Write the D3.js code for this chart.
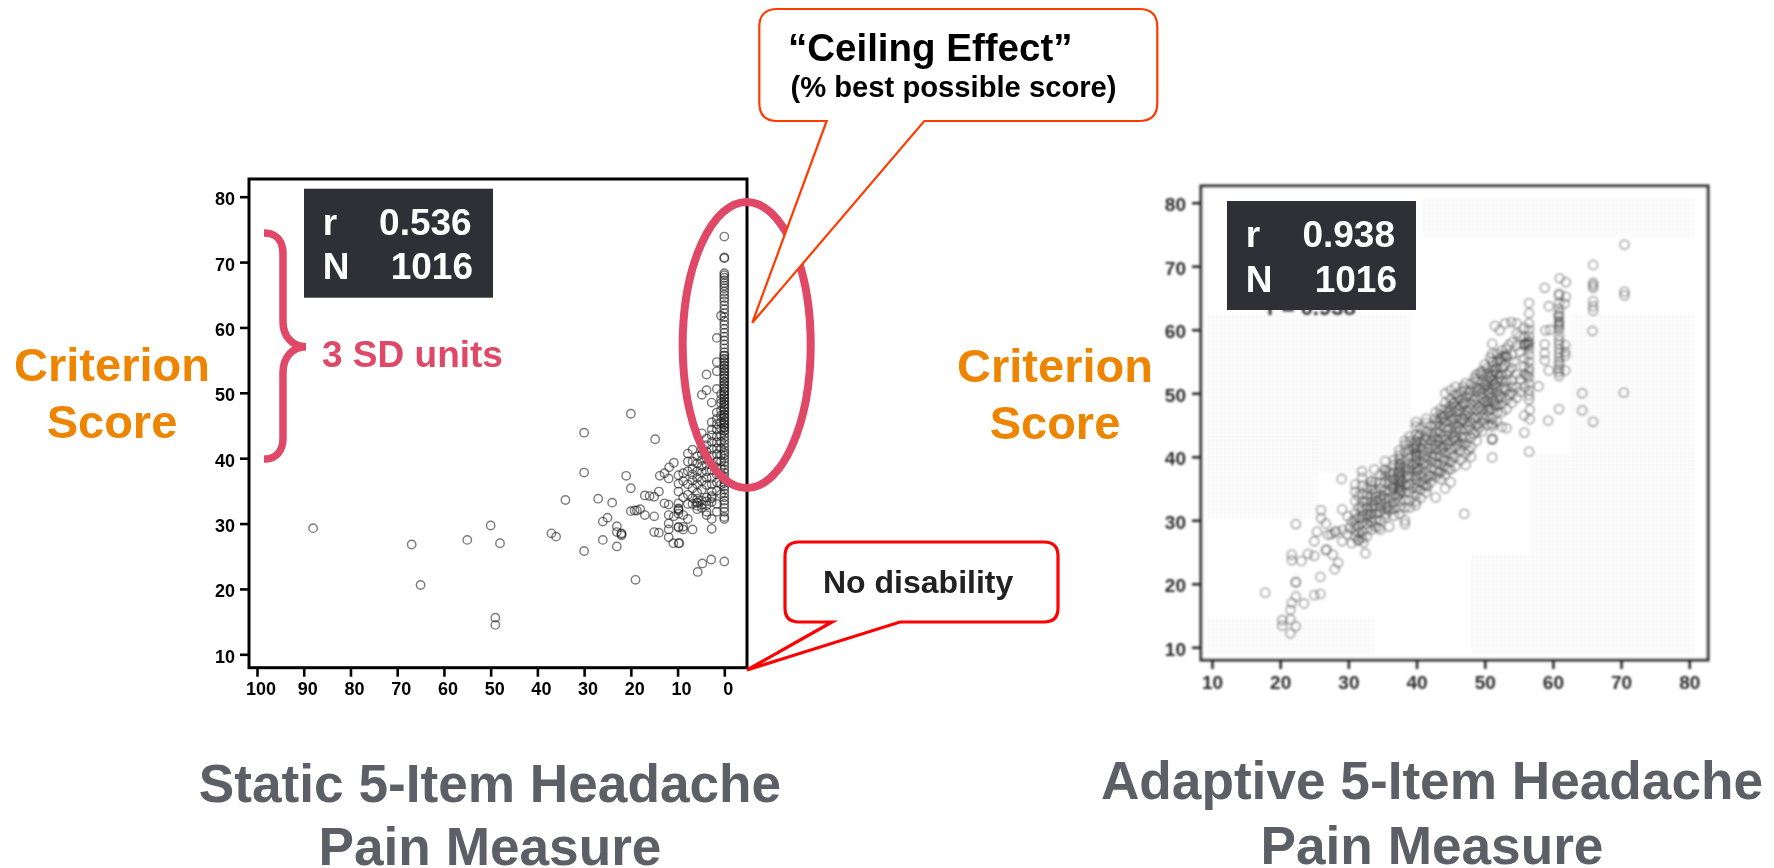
<!DOCTYPE html>
<html><head><meta charset="utf-8">
<script src="https://cdn.jsdelivr.net/npm/d3@7"></script>
<style>
html,body{margin:0;padding:0;background:#fff;overflow:hidden}
text{font-family:"Liberation Sans",Arial,sans-serif;font-weight:700}
</style></head><body>
<script>
// ---- tick labels ----
const staticXTicks=[100,90,80,70,60,50,40,30,20,10,0];
const adaptiveXTicks=[10,20,30,40,50,60,70,80];
const yTicks=[10,20,30,40,50,60,70,80];
// ---- static measure: isolated points [score, criterion] ----
const staticOutliers=[[88,29.3],[66.9,26.8],[65,20.6],[55,27.5],[50,29.7],[48,27],[49,15.6],[49,14.5],[37,28.5],[36,28],[34,33.6],[30,43.9],[30,37.8],[30,25.8],[27,33.8],[24,33.2],[25,30.9],[26,30.3],[26,27.5],[23,29.6],[23,28.7],[23,26.5],[22,28.4],[22,28.2],[22,28.5],[20,46.8],[21,37.3],[20,35.4],[20,31.9],[19,21.4],[19.2,32],[18.7,32],[18,32.2],[17,31.3],[17,34.3],[16,34.2],[15,34.1],[14,34.9],[15,31.1],[14.8,42.9],[15,28.7],[14,28.6],[13.8,37.3],[12.8,37.7],[11.9,36.9],[11.8,38.6],[10.8,39.3],[12.8,33.1],[11.9,32.9],[11.9,31.3],[11.9,30],[11.9,29.1],[11.9,27.9],[10.9,27],[9.6,27],[10.8,31.1],[5.7,22.6],[4.7,23.9],[2.8,24.5],[0,24.2]];
// ---- static measure: dense area, score columns and the criterion values in them ----
const staticColumnScores=[0.7,1.6,2.7,3.8,4.8,5.8,6.8,7.8,8.8,9.8];
const staticColumnValues=[
[34.5,36,37.5,38.5,39.5,40.5,41.5,42.5,43.5,44.5,45.5,46.5,47.3,48.4,49,49.8,61.8],
[31.8,33,35,36.3,37.5,38.5,39.5,40.6,41.5,42.4,43.3,44.4,45.2,46,47,50.6,53.3,54.7,58.4],
[29.2,30.7,33.3,33.9,34.2,34.9,36,37,38.2,39.2,40.4,41.4,42.5,43.5,44.4,45.5,48.5],
[31.3,31.8,32.8,33.4,34,35.9,37,38,39,40,41,42,43,50.4,52.8],
[32.4,32.9,33.5,35.2,36.5,37.8,38.8,39.7,40.6,41.5,43.8,49.7],
[32.2,32.7,33.2,33.2,33.8,34.7,36,37,38,39.2,40.3],
[29.1,33,33.9,35.4,36.6,37.5,38.4,39.5,41.3],
[30.7,33,34.4,36,38,39.5,40.7],
[29.1,29.5,31.3,34,36.5,37.7],
[27,29.4,29.5,31.5,32,32.2,32.3,33.1,34.9,36.1,37.4]];
// ---- static measure: criterion values of everyone at the best possible score ----
const staticCeiling=[30.7,31,31.8,32.4,33,33.5,34,34.6,35.2,35.7,36.2,36.7,37.2,37.8,38.3,38.9,39.4,39.9,40.4,40.8,41.2,41.7,42.2,42.7,43.2,43.7,44.2,44.2,44.7,44.7,45.2,45.2,45.7,45.7,46.2,46.2,46.7,46.7,47.2,47.2,47.7,47.7,48.2,48.2,48.7,48.7,49.2,49.2,49.7,49.7,50.2,50.2,50.7,50.7,51.2,51.2,51.7,51.7,52.2,52.2,52.7,52.7,53.2,53.2,53.7,53.7,54.2,54.2,54.7,54.7,55.2,55.2,55.7,55.7,56.2,56.8,57.4,58,58.6,59.2,59.8,60.4,61,61.6,62.2,62.8,63.4,64,64.5,65,65.5,66,66.4,66.8,67.2,67.6,68,68.3,70.6,70.7,73.9];
// ---- adaptive measure: isolated and fringe points [score, criterion] ----
const adaptiveOutliers=[[70.5,73.4],[65.9,70.2],[65.9,67.4],[65.9,67],[65.9,66.6],[65.9,64.5],[65.9,63.7],[65.9,63],[65.8,59.8],[70.5,66],[70.5,65.4],[70.4,50.1],[64.3,50],[64.3,47.3],[65.9,45.5],[60.9,47.5],[59.3,45.7],[56.5,40.8],[55.8,43.8],[56.6,45.9],[56.6,47.4],[55.8,46.5],[57.9,51.1],[61,68.1],[61.9,67.5],[58.8,66.6],[61.9,65.2],[61.7,64.1],[59.4,63.7],[61.8,57.6],[61.8,56.5],[61.8,55.9],[61.8,53.6],[58.8,57.7],[58.8,56.3],[58.8,55.2],[59.4,53.6],[58.9,59.9],[59.6,60],[53.9,61.2],[53,61],[52.2,59.9],[51.5,60.6],
[17.8,18.6],[21.5,12.2],[20.3,13.4],[20.3,14.3],[21.5,14.4],[22.3,13.3],[21.5,15.9],[21.7,17],[22.3,18],[23.5,16.9],[25,18.2],[25.9,18.4],[22.3,20.2],[22.3,20.3],[25.9,21.1],[21.7,24.6],[21.7,23.7],[23.1,23.6],[24.1,24.7],[25,24.4],[26.7,25.3],[26.8,25.4],[27.7,24.6],[28.5,23.3],[28,22.3],[22.3,29.4],[25,26.7],[26,31.6],[26,30.3],[26.7,29.5],[25.4,28.2],[27,27.7],[28,28.1],[28.2,28.3],[27.5,27.8],[29.1,31.7],[29.9,30.6],[29.1,26.7],[30.5,26.4],[31.4,26.8],[32.2,26.5],[32.5,24.8],[29,36.5],[29.2,28.5],[29.8,27.8],[30.2,28.8],[30.5,29.8],[47,31],[42.8,33.6],[41.6,35.3],[32,37.7],[33.4,36.1],[35.4,39.3],[33.8,38]];
// ---- adaptive measure: dense band, score columns and the criterion values in them ----
const adaptiveColumnScores=[31,31.5,32,32.7,33.4,34,34.7,35.4,36,36.7,37.5,38.3,39,39.9,40.6,41.4,42.1,42.8,43.5,44.2,45,45.7,46.5,47.2,48,48.8,49.6,50.4,51.1,51.8,52.5,53.2,54,54.7,55.8,56.5,60.9];
const adaptiveColumnValues=[
[27.5,28.4,29.3,30.2,31.1,33,34.5,35.6],
[26.9,28,29,30.3,32,33.8],
[27.2,28.2,29.6,30.5,31.4,32.1,33,34.2,35.5,36.7],
[27.5,28.6,29.4,30.3,31,32,33,34,35],
[28.5,29.7,30.4,31.2,32.1,32.9,33.7,34.8,35.5,36.2],
[29,30,31,32,33,33.7,34.4,36],
[28.5,30,31.3,32.2,33.2,34,35,35.9,37.2],
[30.5,31,31.8,32.7,33.5,34.6,36,37,37.7,38],
[29,31.5,32.3,33.4,34.5,35.5,36.2,37.1,37.6],
[30.7,31.8,32.8,33.9,34.9,35.7,36.5,37.5,38.7,39.5],
[31,32,33,34,34.5,35,35.4,35.8,36.2,36.6,37,37.4,37.8,38.2,38.6,39,39.6,40.2,41],
[29.4,30,32,33.2,34.4,35.5,36.6,37.6,38.4,39.4,40.8,41.8,42.5],
[32,33,34.5,35.6,36.9,38,39,40,41,42.4,43.2],
[32.4,33,34,35,35.8,36.6,37,37.6,38.3,39,39.5,40,40.4,40.8,41.2,41.6,42,42.5,43.5,44.8,45.5],
[33.5,34.8,36,37.2,38.2,39.4,40.3,41.3,42.4,43.5,44.5],
[34.4,35.5,36.5,37.7,38.8,39.8,40.8,42,43.1,44,45.3,46],
[36,37,38.2,39.3,40.5,41.4,42.5,43.7,44.8],
[36.8,38,39,40.1,41.2,42,43,44,45,46,47],
[36.5,37.6,38.8,40,41,41.8,42.8,43.8,44.8,45.8,46.7,47.5],
[35,37.2,38.5,39.5,40.6,41.7,42.6,43.4,44.5,45.5,46.5,47.5,48.5,50],
[36,38,39.2,40.5,41.2,42.5,43.5,44.5,45.5,46.3,47.2,48,49,50.5],
[38.5,40,41.5,42.5,43.2,44,45,46,47,47.8,48.7,49.8,51],
[39.5,41,42.2,43.3,44.3,45.3,46,47,48,49,50.2],
[38.7,40.5,42,43,44.4,45.4,46.5,47.3,48.4,49.4,50.5,51.6],
[40,41.5,43,44.2,45.5,46.5,47.5,48.4,49.5,50.5,51.5],
[42.5,44,45,46.2,47.3,48.2,49.2,50.2,51,52,53],
[44,45.5,46.5,47.5,48.3,49.2,50,50.8,51.7,52.8,53.5],
[45,46.3,47.2,48,48.8,49.6,50.4,51.2,52,53,54],
[39.9,42.7,42.7,42.9,44.8,45.2,46,47.5,48.6,49.5,50.5,51.3,52,52.8,53.5,54.3,55,56.2,57.8],
[45.5,47,48,49,50,51,52,53,54,55,56.2],
[44.7,47,48.3,49.3,50.5,52,53,54,55,55.7,56.7],
[44.5,47.5,49,50.5,52,53,55.7,55.9,57],
[48.5,50,51,52,54,56,58],
[49.3,51,53,57.5,59.4,61],
[51,53,54.2,55.5,57.5,57.8,58.8,60.3],
[49,49.7,50.5,51.5,52.5,53.4,54,55,56,57,57.7,58.2,59,60,61,62.6,64.2],
[52.7,53.3,53.8,54.5,55,55.6,56.3,57,57.7,58.3,59,60,60.8,61.4,62,62.6,63.3,64.2,65.4,65.7]];
// ---- adaptive measure: further points read between those columns ----
const adaptiveInBetween=[[33.1,30.8],[33.7,32.5],[34.4,28.9],[35.1,33.9],[35.7,32],[36.4,35.2],[37.1,33.6],[37.9,36.1],[37.8,34.7],[38.7,37.1],[39.4,35.1],[39.5,38.7],[39.6,41.4],[40.2,37.9],[40.3,43.1],[41,35.6],[41,39],[41.1,42.7],[41.8,37.1],[41.7,41.3],[42.4,39.8],[42.5,43.2],[43.2,37.4],[43.1,42.5],[43.1,45.5],[43.9,39.3],[43.8,41.4],[43.8,46.2],[44.6,38],[44.6,42],[44.5,44.1],[44.6,47],[45.3,40],[45.4,43],[45.3,45.8],[45.4,48.5],[46.1,41.8],[46.1,44.6],[46.2,47.4],[46.1,49.3],[46.8,42.8],[46.9,45.9],[46.9,48.5],[46.8,51],[47.6,41],[47.6,44.8],[47.6,47],[47.7,50],[48.4,43.6],[48.4,46],[48.4,48.9],[48.5,52.4],[49.2,44.6],[49.2,47.8],[49.2,50.7],[49.3,53.2],[50,46],[50,48.7],[50,51.3],[50,54.5],[50.8,47.6],[50.7,50],[50.8,52.5],[50.8,55.6],[51.5,48.2],[51.5,51.5],[51.5,53.6],[52.2,49.6],[52.2,52.5],[52.2,55.4],[52.9,51],[52.9,54.3],[52.9,56],[53.6,49.7],[53.6,53.5],[53.5,57.6],[54.3,55],[55.2,50.2],[55.2,52.2],[55.2,56.5],[55.2,59],[56,57.8],[56.2,52.8],[56.3,58],[56.4,57.6],[60.9,61.1],[60.9,60.5],[60.8,62.2]];

// faint scanning stipple behind the adaptive plot: [x0,y0,x1,y1] in pixels
const stippleAreas=[[1424,200,1696,237],[1206,313,1410,473],[1570,313,1696,470],[1530,453,1696,553],[1470,553,1696,653],[1206,617,1375,653],[1206,440,1320,520]];

const W=1774,H=868;
const svg=d3.select("body").append("svg").attr("width",W).attr("height",H).style("display","block");
const defs=svg.append("defs");
defs.append("filter").attr("id","soft").append("feGaussianBlur").attr("stdDeviation",0.9);
defs.append("filter").attr("id","softer").append("feGaussianBlur").attr("stdDeviation",0.45);
const pat=defs.append("pattern").attr("id","stipple").attr("width",4).attr("height",4).attr("patternUnits","userSpaceOnUse");
pat.append("rect").attr("width",1.6).attr("height",1.6).attr("fill","#e2e2e2");

const flat=(scores,vals)=>scores.flatMap((s,i)=>vals[i].map(v=>[s,v]));

function panel(o){
  const x=d3.scaleLinear().domain(o.xDomain).range(o.xRange);
  const y=d3.scaleLinear().domain([10,80]).range(o.yRange);
  const g=svg.append("g").attr("filter",o.filter);
  g.append("rect").attr("x",o.frame[0]).attr("y",o.frame[1])
    .attr("width",o.frame[2]-o.frame[0]).attr("height",o.frame[3]-o.frame[1])
    .attr("fill","#fff").attr("stroke",o.axis).attr("stroke-width",3);
  g.append("g").selectAll("rect").data(o.stipple||[]).join("rect")
    .attr("x",d=>d[0]).attr("y",d=>d[1]).attr("width",d=>d[2]-d[0]).attr("height",d=>d[3]-d[1]).attr("fill","url(#stipple)");
  g.append("g").selectAll("circle").data(o.points).join("circle")
    .attr("cx",d=>x(d[0])).attr("cy",d=>y(d[1])).attr("r",o.r)
    .attr("fill","none").attr("stroke",o.dot).attr("stroke-width",o.sw).attr("stroke-opacity",o.op);
  const ax=g.append("g").attr("transform",`translate(0,${o.frame[3]})`)
    .call(d3.axisBottom(x).tickValues(o.xTicks).tickSize(o.tick).tickPadding(0).tickFormat(d3.format("d")));
  ax.select(".domain").remove();
  ax.selectAll("line").attr("stroke",o.axis).attr("stroke-width",2.6);
  ax.selectAll("text").attr("fill",o.axis).attr("font-size",o.font).attr("dy",0)
    .attr("x",o.xdx).attr("y",o.xBase-o.frame[3]);
  const ay=g.append("g").attr("transform",`translate(${o.frame[0]},0)`)
    .call(d3.axisLeft(y).tickValues(yTicks).tickSize(o.tick).tickPadding(0).tickFormat(d3.format("d")));
  ay.select(".domain").remove();
  ay.selectAll("line").attr("stroke",o.axis).attr("stroke-width",2.6);
  ay.selectAll("text").attr("fill",o.axis).attr("font-size",o.font).attr("dy",0)
    .attr("x",o.yEnd-o.frame[0]).attr("y",8);
}

panel({xDomain:[100,0],xRange:[257,724.3],yRange:[654.3,196.7],frame:[249,179,747,667.7],
  points:[...staticOutliers,...flat(staticColumnScores,staticColumnValues),...staticCeiling.map(v=>[0,v])],
  xTicks:staticXTicks,r:4.2,sw:1.4,op:.6,dot:"#222",axis:"#000",tick:9,font:18,xdx:3.5,xBase:695,yEnd:235,filter:"url(#softer)"});
panel({xDomain:[10,80],xRange:[1212,1689.3],yRange:[647.3,202.7],frame:[1201,186,1708,660],
  points:[...adaptiveOutliers,...flat(adaptiveColumnScores,adaptiveColumnValues),...adaptiveInBetween],stipple:stippleAreas,
  xTicks:adaptiveXTicks,r:4.5,sw:1.8,op:.42,dot:"#333",axis:"#2b2b2b",tick:9,font:19,xdx:0,xBase:689,yEnd:1186,filter:"url(#soft)"});
// fragment of the original statistic, peeking out under the adaptive box
svg.append("text").attr("x",1267).attr("y",315).attr("font-size",22).attr("fill","#333").attr("filter","url(#soft)").text("r = 0.938");

function statBox(x0,y0,x1,y1,tx,endR,endN,b1,b2,r){
  svg.append("rect").attr("x",x0).attr("y",y0).attr("width",x1-x0).attr("height",y1-y0).attr("fill","#2e3035");
  const t=(s,x,y,a)=>svg.append("text").attr("x",x).attr("y",y).attr("text-anchor",a).attr("font-size",37).attr("fill","#fff").text(s);
  t("r",tx,b1,"start");t(r,endR,b1,"end");t("N",tx,b2,"start");t("1016",endN,b2,"end");
}
statBox(304,188.7,493,297.7,322.7,471.7,473,235,279,"0.536");
statBox(1227,201,1416,310,1245.7,1395,1397,246.7,291.7,"0.938");

const pink="#e04868",orange="#ee8500",grey="#5c5f66";
// ceiling ellipse
svg.append("ellipse").attr("cx",746.7).attr("cy",345).attr("rx",64).attr("ry",143)
  .attr("fill","none").attr("stroke",pink).attr("stroke-width",8);
// brace
svg.append("path").attr("d","M264 233C276 233 283 241 283 254V322C283 336 292 346.7 306 346.7C292 346.7 283 358 283 372V438C283 451 276 459 264 459")
  .attr("fill","none").attr("stroke",pink).attr("stroke-width",7.5);
svg.append("text").attr("x",322).attr("y",367).attr("font-size",37).attr("fill",pink).text("3 SD units");

// callouts
svg.append("path").attr("d","M777.3 9H1139.3Q1157.3 9 1157.3 27V103Q1157.3 121 1139.3 121H924.3L752.3 322.7L826.7 121H777.3Q759.3 121 759.3 103V27Q759.3 9 777.3 9Z")
  .attr("fill","#fff").attr("stroke","#ff3b00").attr("stroke-width",2.2).attr("stroke-linejoin","miter");
svg.append("text").attr("x",788).attr("y",61).attr("font-size",38.5).attr("fill","#000").text("“Ceiling Effect”");
svg.append("text").attr("x",790.5).attr("y",97).attr("font-size",29.2).attr("fill","#000").text("(% best possible score)");

svg.append("path").attr("d","M799 542H1044Q1058 542 1058 556V608Q1058 622 1044 622H900L747 670L832 622H799Q785 622 785 608V556Q785 542 799 542Z")
  .attr("fill","#fff").attr("stroke","#f00").attr("stroke-width",3.2);
svg.append("text").attr("x",823).attr("y",593).attr("font-size",32).attr("fill","#222").text("No disability");

// side labels and titles
const centred=(s,x,y,size,fill)=>svg.append("text").attr("x",x).attr("y",y).attr("text-anchor","middle").attr("font-size",size).attr("fill",fill).text(s);
centred("Criterion",112,380.7,47,orange);centred("Score",112,438,47,orange);
centred("Criterion",1055,382,47,orange);centred("Score",1055,439,47,orange);
centred("Static 5-Item Headache",490,802,53.2,grey);centred("Pain Measure",490,865,53.2,grey);
centred("Adaptive 5-Item Headache",1432,799,53.2,grey);centred("Pain Measure",1432,864,53.2,grey);
</script>
</body></html>
